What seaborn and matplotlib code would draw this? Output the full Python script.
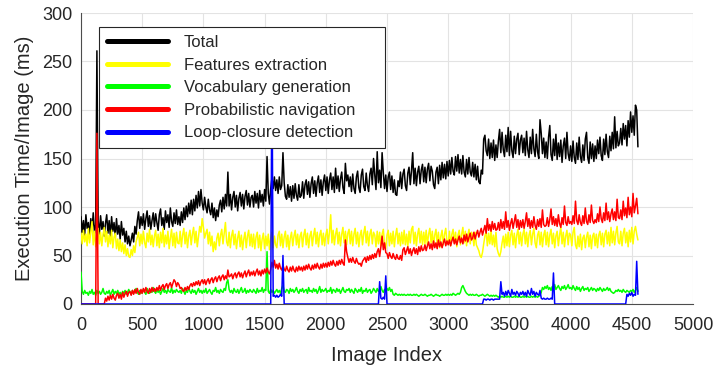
import numpy as np
import pandas as pd
import matplotlib
matplotlib.use("Agg")
import matplotlib.pyplot as plt
import seaborn as sns

# ---------------- data (sampled every 10 images) ----------------
image_index = list(range(0, 4551, 10))

total = [
    90, 74, 86, 71, 92, 78, 84, 70, 88, 76, 94, 73, 82, 261, 86, 72, 91, 77, 85, 70,
    83, 92, 73, 86, 70, 90, 75, 84, 69, 88, 72, 81, 67, 85, 71, 78, 64, 75, 62, 70,
    60, 66, 73, 64, 80, 72, 86, 95, 78, 90, 81, 93, 77, 88, 96, 80, 91, 77, 86, 94,
    80, 93, 84, 76, 92, 98, 81, 89, 77, 96, 84, 92, 79, 99, 85, 80, 94, 83, 97, 82,
    90, 81, 95, 84, 99, 87, 101, 90, 104, 93, 107, 92, 108, 96, 112, 99, 116, 101, 118, 104,
    97, 110, 100, 94, 108, 97, 92, 104, 89, 99, 86, 97, 90, 102, 107, 95, 110, 98, 113, 101,
    136, 101, 113, 97, 110, 116, 100, 112, 96, 109, 115, 101, 113, 98, 111, 117, 102, 114, 100, 110,
    112, 100, 116, 104, 114, 99, 117, 105, 113, 101, 118, 106, 152, 114, 103, 119, 130, 119, 131, 117,
    128, 114, 131, 118, 122, 156, 125, 111, 108, 123, 110, 121, 106, 122, 109, 124, 112, 107, 123, 110,
    112, 126, 109, 123, 128, 113, 126, 110, 124, 131, 114, 127, 111, 125, 132, 115, 128, 112, 126, 133,
    117, 131, 114, 128, 135, 118, 131, 115, 140, 119, 132, 116, 129, 136, 120, 114, 145, 127, 133, 121,
    131, 116, 134, 119, 114, 131, 137, 120, 115, 133, 139, 121, 117, 135, 122, 116, 134, 140, 123, 150,
    133, 118, 157, 125, 138, 120, 156, 135, 119, 133, 116, 131, 136, 118, 132, 115, 128, 113, 112, 127,
    121, 136, 119, 134, 139, 122, 117, 135, 141, 123, 137, 156, 124, 140, 122, 136, 142, 124, 138, 144,
    126, 141, 125, 139, 145, 127, 142, 137, 123, 119, 136, 141, 124, 143, 128, 146, 130, 144, 129, 147,
    132, 148, 134, 151, 137, 133, 152, 137, 154, 135, 149, 134, 153, 136, 131, 149, 134, 151, 136, 132,
    146, 131, 144, 128, 142, 126, 124, 138, 134, 170, 174, 158, 153, 170, 150, 166, 151, 169, 148, 164,
    151, 168, 180, 156, 177, 159, 152, 174, 157, 182, 153, 178, 158, 151, 173, 155, 170, 176, 154, 169,
    174, 156, 171, 153, 178, 159, 151, 172, 155, 180, 160, 152, 175, 157, 150, 190, 176, 155, 171, 151,
    167, 150, 172, 184, 154, 148, 170, 153, 175, 149, 166, 152, 169, 146, 163, 171, 150, 177, 155, 148,
    163, 147, 168, 151, 145, 166, 149, 172, 152, 146, 164, 148, 170, 177, 151, 145, 167, 150, 165, 147,
    163, 150, 169, 155, 172, 153, 148, 170, 154, 175, 157, 151, 173, 158, 177, 160, 193, 161, 178, 163,
    166, 181, 164, 186, 170, 184, 163, 189, 172, 198, 177, 194, 174, 205, 200, 162,
]

features = [
    73, 62, 76, 64, 72, 60, 78, 63, 74, 85, 61, 75, 59, 71, 78, 62, 74, 60, 72, 79,
    64, 75, 59, 71, 62, 76, 58, 69, 73, 57, 67, 55, 66, 54, 63, 52, 61, 50, 57, 49,
    48, 56, 50, 60, 53, 64, 69, 74, 60, 72, 62, 75, 63, 58, 73, 64, 77, 61, 71, 59,
    70, 76, 60, 72, 58, 74, 63, 78, 59, 71, 62, 75, 57, 68, 77, 60, 73, 58, 74, 63,
    62, 75, 59, 71, 78, 62, 74, 58, 70, 76, 61, 72, 79, 63, 75, 59, 70, 80, 74, 88,
    79, 68, 73, 77, 62, 74, 60, 70, 54, 64, 56, 68, 73, 60, 71, 77, 62, 73, 84, 64,
    60, 74, 58, 70, 76, 61, 72, 57, 68, 75, 59, 71, 56, 67, 74, 58, 70, 76, 60, 72,
    59, 72, 57, 69, 74, 58, 71, 55, 67, 73, 57, 70, 60, 72, 56, 68, 74, 58, 70, 61,
    58, 71, 75, 60, 72, 58, 69, 75, 59, 71, 56, 68, 74, 60, 70, 76, 61, 72, 58, 70,
    74, 59, 71, 77, 61, 73, 58, 70, 75, 60, 71, 78, 62, 74, 59, 71, 76, 61, 73, 60,
    71, 77, 62, 74, 92, 63, 76, 61, 72, 78, 62, 74, 60, 72, 79, 63, 75, 61, 73, 77,
    62, 75, 60, 72, 78, 62, 74, 59, 71, 76, 61, 73, 80, 63, 75, 60, 72, 77, 62, 74,
    71, 59, 75, 62, 74, 60, 72, 77, 61, 57, 71, 76, 60, 73, 62, 75, 59, 71, 78, 62,
    73, 60, 74, 62, 76, 61, 72, 59, 75, 63, 77, 80, 62, 74, 60, 72, 78, 63, 75, 61,
    74, 62, 76, 61, 72, 78, 63, 75, 60, 71, 77, 62, 74, 58, 70, 76, 61, 72, 78, 64,
    62, 75, 60, 72, 77, 63, 74, 59, 71, 76, 61, 72, 79, 63, 75, 60, 71, 77, 62, 74,
    71, 60, 74, 61, 58, 55, 50, 48, 53, 62, 70, 75, 60, 73, 62, 76, 61, 71, 59, 74,
    57, 52, 49, 54, 63, 70, 58, 72, 60, 74, 59, 71, 76, 61, 73, 58, 71, 77, 62, 74,
    60, 72, 77, 62, 74, 59, 71, 76, 61, 72, 78, 63, 58, 71, 75, 61, 74, 59, 71, 76,
    61, 74, 59, 71, 77, 62, 73, 58, 70, 75, 60, 71, 79, 62, 74, 59, 70, 76, 61, 73,
    71, 60, 74, 79, 61, 57, 70, 59, 72, 56, 68, 71, 58, 69, 74, 59, 71, 57, 70, 73,
    60, 72, 58, 71, 75, 61, 73, 59, 72, 76, 62, 74, 60, 79, 63, 75, 61, 73, 80, 64,
    62, 75, 60, 73, 78, 63, 74, 59, 76, 64, 79, 62, 75, 80, 72, 66,
]

vocabulary = [
    33, 13, 10, 14, 11, 12, 9, 13, 11, 15, 10, 12, 9, 14, 11, 13, 10, 12, 16, 11,
    10, 13, 11, 14, 9, 12, 15, 10, 13, 11, 14, 10, 12, 9, 13, 11, 14, 10, 12, 15,
    12, 10, 14, 11, 13, 16, 12, 10, 14, 11, 13, 15, 12, 10, 16, 13, 11, 14, 12, 17,
    13, 11, 15, 12, 14, 10, 13, 16, 12, 14, 11, 15, 13, 12, 17, 11, 14, 12, 15, 13,
    12, 14, 11, 16, 13, 10, 14, 12, 17, 13, 11, 15, 12, 14, 10, 13, 16, 12, 14, 11,
    14, 12, 16, 11, 13, 15, 12, 10, 14, 13, 17, 12, 14, 11, 15, 13, 12, 16, 14, 22,
    25, 15, 12, 14, 11, 16, 13, 12, 15, 11, 14, 17, 12, 13, 16, 11, 14, 12, 15, 13,
    12, 15, 13, 11, 16, 12, 14, 13, 17, 12, 15, 14, 54, 13, 11, 15, 12, 14, 11, 13,
    15, 12, 14, 11, 16, 19, 13, 12, 15, 14, 11, 16, 13, 15, 12, 14, 17, 13, 11, 15,
    13, 16, 12, 14, 15, 11, 17, 13, 14, 12, 16, 13, 15, 11, 14, 18, 12, 15, 13, 14,
    16, 12, 14, 13, 17, 11, 15, 14, 12, 16, 13, 15, 11, 14, 17, 13, 12, 15, 14, 16,
    12, 15, 13, 11, 16, 14, 12, 15, 13, 17, 11, 14, 13, 16, 12, 14, 15, 11, 13, 16,
    14, 12, 16, 13, 15, 18, 14, 12, 15, 13, 16, 14, 17, 13, 15, 10, 9, 11, 10, 9,
    10, 9, 10, 9, 10, 9, 9, 10, 9, 10, 9, 9, 10, 9, 10, 9, 8, 9, 10, 9,
    9, 10, 9, 8, 9, 9, 10, 9, 8, 9, 10, 9, 9, 8, 9, 10, 9, 9, 10, 9,
    10, 9, 10, 9, 11, 10, 9, 10, 11, 10, 12, 17, 19, 16, 13, 11, 10, 9, 10, 9,
    10, 9, 9, 10, 9, 8, 9, 9, 10, 9, 8, 9, 10, 9, 8, 9, 8, 9, 8, 9,
    8, 7, 8, 7, 8, 7, 7, 8, 7, 8, 7, 8, 7, 7, 8, 7, 8, 7, 8, 7,
    7, 8, 7, 8, 7, 8, 7, 7, 8, 7, 8, 7, 8, 7, 8, 9, 12, 17, 15, 18,
    16, 19, 15, 17, 14, 18, 16, 20, 15, 17, 19, 16, 14, 18, 16, 19, 15, 17, 20, 16,
    17, 15, 19, 16, 14, 18, 15, 17, 13, 16, 18, 14, 16, 15, 17, 13, 15, 17, 14, 16,
    15, 13, 16, 14, 17, 15, 13, 16, 14, 15, 17, 14, 16, 13, 12, 11, 12, 14, 13, 15,
    13, 14, 12, 15, 13, 12, 14, 13, 12, 14, 13, 15, 12, 14, 17, 13,
]

navigation = [
    0, 0, 0, 0, 0, 0, 0, 0, 0, 0, 0, 0, 0, 176, 0, 0, 0, 0, 0, 0,
    6, 3, 8, 4, 9, 5, 10, 6, 4, 9, 11, 6, 10, 5, 12, 7, 11, 13, 8, 12,
    13, 9, 14, 10, 15, 11, 16, 12, 10, 15, 11, 16, 12, 17, 13, 11, 16, 12, 17, 13,
    16, 13, 17, 14, 19, 14, 18, 20, 15, 19, 21, 16, 20, 22, 17, 21, 25, 23, 18, 22,
    20, 16, 17, 14, 13, 17, 14, 18, 15, 19, 21, 18, 22, 19, 23, 20, 24, 19, 23, 25,
    21, 25, 20, 24, 26, 21, 25, 27, 22, 26, 28, 23, 27, 29, 24, 28, 30, 25, 29, 26,
    35, 28, 29, 31, 26, 30, 32, 27, 31, 33, 28, 32, 27, 31, 34, 28, 32, 35, 29, 33,
    30, 34, 29, 33, 36, 30, 34, 29, 35, 31, 36, 32, 37, 33, 31, 36, 43, 38, 45, 37,
    41, 36, 42, 37, 35, 40, 36, 34, 39, 35, 33, 38, 34, 39, 35, 33, 38, 34, 39, 35,
    38, 34, 39, 35, 40, 36, 41, 37, 35, 40, 36, 41, 37, 42, 38, 36, 41, 37, 42, 38,
    42, 38, 43, 39, 44, 40, 45, 41, 39, 44, 40, 45, 41, 46, 42, 40, 66, 54, 48, 43,
    47, 43, 48, 44, 42, 47, 43, 41, 42, 39, 44, 46, 48, 43, 49, 45, 50, 46, 51, 47,
    52, 48, 54, 57, 49, 59, 70, 56, 63, 53, 52, 47, 53, 49, 47, 52, 48, 46, 51, 47,
    46, 50, 45, 56, 58, 51, 55, 59, 52, 57, 50, 55, 58, 52, 57, 51, 59, 54, 60, 55,
    56, 61, 55, 60, 64, 57, 62, 56, 65, 58, 63, 57, 66, 59, 64, 58, 63, 67, 60, 65,
    61, 66, 60, 65, 69, 62, 67, 61, 66, 70, 63, 68, 62, 71, 65, 72, 64, 69, 73, 66,
    68, 74, 67, 72, 76, 69, 74, 78, 71, 76, 81, 73, 88, 76, 82, 75, 85, 77, 83, 76,
    77, 84, 76, 87, 78, 85, 77, 95, 79, 86, 76, 83, 88, 78, 85, 92, 79, 87, 77, 86,
    79, 87, 78, 85, 94, 80, 88, 78, 86, 79, 90, 81, 77, 87, 80, 88, 79, 97, 82, 80,
    81, 89, 80, 87, 98, 82, 90, 81, 88, 80, 92, 83, 79, 89, 82, 101, 84, 81, 90, 83,
    85, 82, 91, 83, 106, 86, 82, 92, 84, 81, 91, 83, 99, 85, 82, 92, 84, 102, 86, 83,
    87, 84, 93, 85, 100, 88, 84, 94, 86, 104, 87, 95, 85, 93, 98, 87, 95, 86, 108, 89,
    88, 97, 87, 106, 91, 99, 89, 110, 92, 100, 90, 114, 94, 101, 109, 93,
]

loop_closure = [
    0, 0, 0, 0, 0, 0, 0, 0, 0, 0, 0, 0, 0, 0, 0, 0, 0, 0, 0, 0,
    0, 0, 0, 0, 0, 0, 0, 0, 0, 0, 0, 0, 0, 0, 0, 0, 0, 0, 0, 0,
    0, 0, 0, 0, 0, 0, 0, 0, 0, 0, 0, 0, 0, 0, 0, 0, 0, 0, 0, 0,
    0, 0, 0, 0, 0, 0, 0, 0, 0, 0, 0, 0, 0, 0, 0, 0, 0, 0, 0, 0,
    0, 0, 0, 0, 0, 0, 0, 0, 0, 0, 0, 0, 0, 0, 0, 0, 0, 0, 0, 0,
    0, 0, 0, 0, 0, 0, 0, 0, 0, 0, 0, 0, 0, 0, 0, 0, 0, 0, 0, 0,
    0, 0, 0, 0, 0, 0, 0, 0, 0, 0, 0, 0, 0, 0, 0, 0, 0, 0, 0, 0,
    0, 0, 0, 0, 0, 0, 0, 0, 0, 0, 0, 0, 0, 0, 0, 0, 250, 8, 9, 7,
    9, 7, 8, 10, 8, 50, 0, 0, 0, 0, 0, 0, 0, 0, 0, 0, 0, 0, 0, 0,
    0, 0, 0, 0, 0, 0, 0, 0, 0, 0, 0, 0, 0, 0, 0, 0, 0, 0, 0, 0,
    0, 0, 0, 0, 0, 0, 0, 0, 0, 0, 0, 0, 0, 0, 0, 0, 0, 0, 0, 0,
    0, 0, 0, 0, 0, 0, 0, 0, 0, 0, 0, 0, 0, 0, 0, 0, 0, 0, 0, 0,
    0, 0, 0, 0, 23, 6, 5, 7, 5, 29, 0, 0, 0, 0, 0, 0, 0, 0, 0, 0,
    0, 0, 0, 0, 0, 0, 0, 0, 0, 0, 0, 0, 0, 0, 0, 0, 0, 0, 0, 0,
    0, 0, 0, 0, 0, 0, 0, 0, 0, 0, 0, 0, 0, 0, 0, 0, 0, 0, 0, 0,
    0, 0, 0, 0, 0, 0, 0, 0, 0, 0, 0, 0, 0, 0, 0, 0, 0, 0, 0, 0,
    0, 0, 0, 0, 0, 0, 0, 0, 0, 5, 5, 4, 5, 5, 4, 5, 5, 4, 5, 5,
    5, 5, 5, 23, 10, 12, 8, 13, 9, 14, 11, 8, 15, 10, 12, 9, 13, 11, 8, 12,
    10, 13, 9, 12, 8, 14, 11, 9, 16, 10, 13, 8, 12, 10, 9, 14, 6, 5, 6, 5,
    5, 6, 5, 5, 6, 5, 32, 0, 0, 0, 0, 0, 0, 0, 0, 0, 0, 0, 0, 0,
    0, 0, 0, 0, 0, 0, 0, 0, 0, 0, 0, 0, 0, 0, 0, 0, 0, 0, 0, 0,
    0, 0, 0, 0, 0, 0, 0, 0, 0, 0, 0, 0, 0, 0, 0, 0, 0, 0, 0, 0,
    0, 0, 0, 0, 0, 0, 10, 8, 11, 9, 12, 8, 10, 9, 44, 10,
]

series_names = ["Total", "Features extraction", "Vocabulary generation",
                "Probabilistic navigation", "Loop-closure detection"]
series_values = [total, features, vocabulary, navigation, loop_closure]
series_colors = ["#000000", "#ffff00", "#00ff00", "#ff0000", "#0000ff"]

x_ticks = list(range(0, 5001, 500))
y_ticks = list(range(0, 301, 50))

# ---------------- style ----------------
sns.set_theme(style="whitegrid")
plt.rcParams["font.family"] = ["Liberation Sans", "DejaVu Sans"]
plt.rcParams["axes.edgecolor"] = "#4d4d4d"
plt.rcParams["grid.color"] = "#e3e3e3"

fig = plt.figure(figsize=(7.16, 3.67), dpi=100)
ax = fig.add_axes([81 / 716, 1 - 304 / 367, (693 - 81) / 716, (304 - 13) / 367])

for name, vals, col in zip(series_names, series_values, series_colors):
    df = pd.DataFrame({"idx": image_index, "val": vals})
    sns.lineplot(data=df, x="idx", y="val", color=col, label=name,
                 linewidth=1.1, estimator=None, ax=ax, zorder=3)

ax.set_xlim(0, 5000)
ax.set_ylim(0, 300)
ax.set_xticks(x_ticks)
ax.set_yticks(y_ticks)
ax.tick_params(axis="both", direction="in", length=4, width=0.8,
               colors="#4d4d4d", labelcolor="#262626", labelsize=13)
ax.tick_params(axis="x", pad=9)
ax.tick_params(axis="y", pad=6)
ax.grid(True, color="#e3e3e3", linewidth=0.8)
ax.set_axisbelow(True)
for s in ["top", "right"]:
    ax.spines[s].set_visible(False)
for s in ["left", "bottom"]:
    ax.spines[s].set_color("#4d4d4d")
    ax.spines[s].set_linewidth(0.8)

ax.set_xlabel("Image Index", fontsize=14.5, color="#262626", labelpad=9)
ax.set_ylabel("Execution Time/Image (ms)", fontsize=14.5, color="#262626", labelpad=6)

x0 = (99 - 81) / 612
top = 1 - (27 - 13) / 291
w = (385 - 99) / 612
h = (152 - 27) / 291
leg = ax.legend(loc="upper left", bbox_to_anchor=(x0, top - h, w, h), mode="expand",
                borderaxespad=0, fontsize=12, frameon=True, fancybox=False,
                framealpha=1, edgecolor="#262626", handlelength=3.66,
                handletextpad=0.96, labelspacing=0.456, borderpad=0.48)
leg.get_frame().set_linewidth(0.8)
for ln in leg.get_lines():
    ln.set_linewidth(3.6)
for t in leg.get_texts():
    t.set_color("#262626")

fig.savefig("out.png", dpi=100)
